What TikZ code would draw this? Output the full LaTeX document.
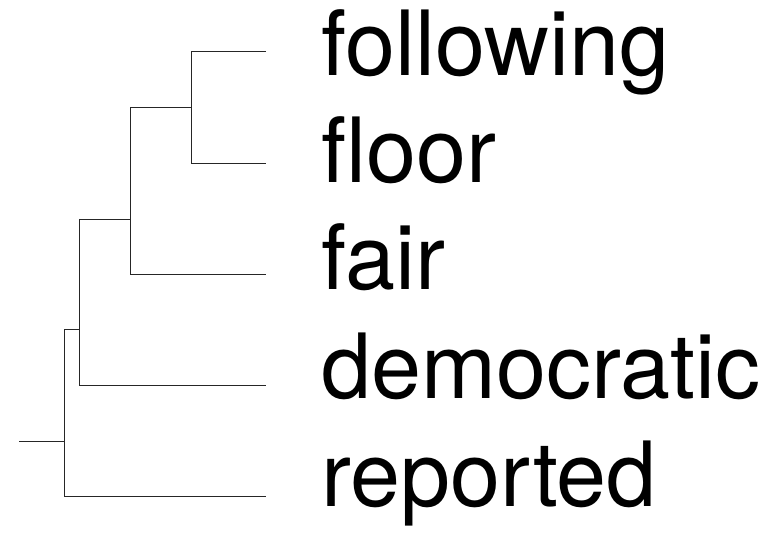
\documentclass[tikz,border=0pt]{standalone}
\usepackage{fontspec}
\setmainfont{TeX Gyre Heros}
\begin{document}
\begin{tikzpicture}[x=1pt,y=-1pt,
  br/.style={line width=0.9pt,draw=black!85},
  lbl/.style={anchor=base west,inner sep=0pt,font=\fontsize{90}{90}\selectfont}]
\useasboundingbox (0,0) rectangle (772,540);
% leaves
\coordinate (l1) at (266,51.7);
\coordinate (l2) at (266,163.3);
\coordinate (l3) at (266,274);
\coordinate (l4) at (266,385);
\coordinate (l5) at (266,496.3);
% internal nodes
\coordinate (n1) at (191.7,107.3);
\coordinate (n2) at (130,219);
\coordinate (n3) at (79.3,329.7);
\coordinate (n4) at (64,441);
\coordinate (root) at (19,441);
% labels
\node[lbl] (t1) at (321,76) {following};
\node[lbl] (t2) at (321,182.7) {floor};
\node[lbl] (t3) at (321,289.3) {fair};
\node[lbl] (t4) at (321,398.3) {democratic};
\node[lbl] (t5) at (321,506) {reported};
% branches
\draw[br] (l1) -| (n1) |- (l2);
\draw[br] (n1) -- (n1 -| n2);
\draw[br] (n1 -| n2) |- (l3);
\draw[br] (n2) -- (n2 -| n3);
\draw[br] (n2 -| n3) |- (l4);
\draw[br] (n3) -- (n3 -| n4);
\draw[br] (n3 -| n4) |- (l5);
\draw[br] (root) -- (n4);
\end{tikzpicture}
\end{document}
